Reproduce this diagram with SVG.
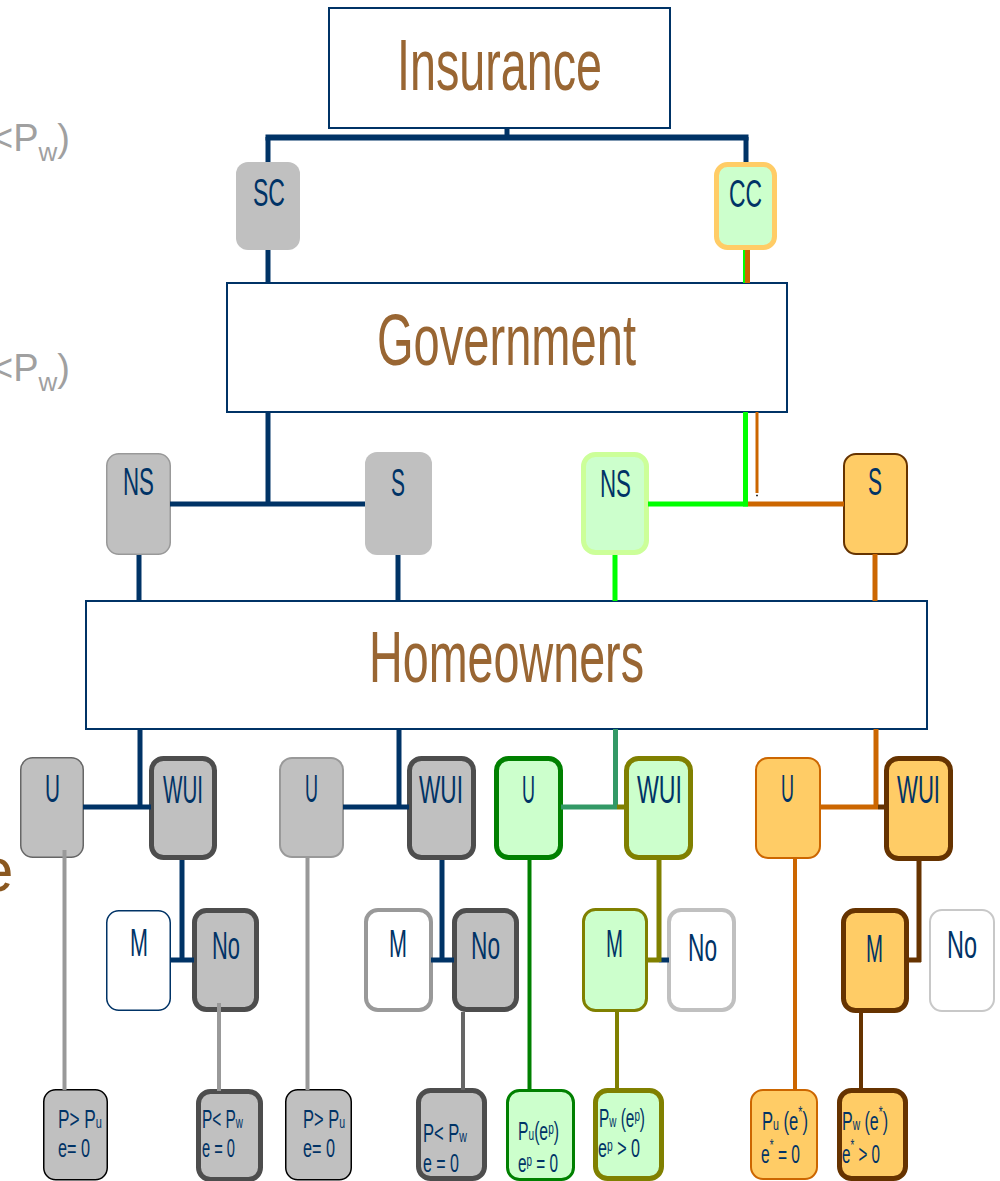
<svg xmlns="http://www.w3.org/2000/svg" width="1000" height="1181" viewBox="0 0 1000 1181">
<style>
text{font-family:"Liberation Sans Narrow","Liberation Sans",Arial,sans-serif;}
.title{font-size:72px;fill:#996633;}
.lbl{font-size:38px;fill:#003366;}
.leaf{font-size:25px;fill:#003366;}
.sub{font-size:16px;}
.main{fill:#ffffff;stroke:#003366;stroke-width:2;}
.side{font-family:"Liberation Sans",Arial,sans-serif;font-size:38px;fill:#a0a0a0;}
.c{fill:none;stroke-linecap:butt;}
</style>

<text class="side" x="-9" y="151">&lt;P<tspan font-size="26" dy="10">w</tspan><tspan dy="-10">)</tspan></text>
<text class="side" x="-9" y="381">&lt;P<tspan font-size="26" dy="10">w</tspan><tspan dy="-10">)</tspan></text>
<text x="-21" y="891" style="font-family:'Liberation Sans',Arial,sans-serif;font-size:62px;fill:#8a5820;">e</text>

<g id="insurance"><rect class="main" x="329" y="8" width="341" height="120"/><text class="title" x="397" y="90" textLength="205" lengthAdjust="spacingAndGlyphs">Insurance</text></g>
<g id="government"><rect class="main" x="227" y="283" width="560" height="129"/><text class="title" x="377" y="365" textLength="259" lengthAdjust="spacingAndGlyphs">Government</text></g>
<g id="homeowners"><rect class="main" x="86" y="601" width="841" height="128"/><text class="title" x="369" y="682" textLength="275" lengthAdjust="spacingAndGlyphs">Homeowners</text></g>

<g id="sc"><rect x="236" y="162" width="64" height="88" rx="12" fill="#c0c0c0"/><text class="lbl" x="253" y="206" textLength="32" lengthAdjust="spacingAndGlyphs">SC</text></g>
<g id="cc"><rect x="716.5" y="164.5" width="58" height="83" rx="11" fill="#ccffcc" stroke="#ffcc66" stroke-width="5"/><text class="lbl" x="729" y="207" textLength="33" lengthAdjust="spacingAndGlyphs">CC</text></g>

<g id="ns-gray"><rect x="106.75" y="453.75" width="63.5" height="100.5" rx="12" fill="#c0c0c0" stroke="#999999" stroke-width="1.5"/><text class="lbl" x="123" y="495" textLength="31" lengthAdjust="spacingAndGlyphs">NS</text></g>
<g id="s-gray"><rect x="365" y="452" width="67" height="103" rx="12" fill="#c0c0c0"/><text class="lbl" x="391" y="496" textLength="14" lengthAdjust="spacingAndGlyphs">S</text></g>
<g id="ns-green"><rect x="583.5" y="454.5" width="63" height="98" rx="12" fill="#ccffcc" stroke="#ccff99" stroke-width="5"/><text class="lbl" x="600" y="497" textLength="31" lengthAdjust="spacingAndGlyphs">NS</text></g>
<g id="s-orange"><rect x="844" y="454" width="63" height="100" rx="12" fill="#ffcc66" stroke="#663300" stroke-width="2"/><text class="lbl" x="868" y="495" textLength="14" lengthAdjust="spacingAndGlyphs">S</text></g>

<g id="u1"><rect x="20.75" y="757.75" width="62.5" height="99.5" rx="12" fill="#c0c0c0" stroke="#666666" stroke-width="1.5"/><text class="lbl" x="45" y="802" textLength="15" lengthAdjust="spacingAndGlyphs">U</text></g>
<g id="wui1"><rect x="151.5" y="758.5" width="63" height="99" rx="12" fill="#c0c0c0" stroke="#4d4d4d" stroke-width="5"/><text class="lbl" x="163" y="803" textLength="40" lengthAdjust="spacingAndGlyphs">WUI</text></g>
<g id="u2"><rect x="280" y="758" width="63" height="99" rx="12" fill="#c0c0c0" stroke="#999999" stroke-width="2"/><text class="lbl" x="305" y="802" textLength="13" lengthAdjust="spacingAndGlyphs">U</text></g>
<g id="wui2"><rect x="409.5" y="758.5" width="64" height="99" rx="12" fill="#c0c0c0" stroke="#4d4d4d" stroke-width="5"/><text class="lbl" x="419" y="803" textLength="44" lengthAdjust="spacingAndGlyphs">WUI</text></g>
<g id="u3"><rect x="496.5" y="758.5" width="64" height="99" rx="12" fill="#ccffcc" stroke="#008000" stroke-width="5"/><text class="lbl" x="522" y="803" textLength="13" lengthAdjust="spacingAndGlyphs">U</text></g>
<g id="wui3"><rect x="626.5" y="758.5" width="64" height="99" rx="12" fill="#ccffcc" stroke="#808000" stroke-width="5"/><text class="lbl" x="637" y="803" textLength="45" lengthAdjust="spacingAndGlyphs">WUI</text></g>
<g id="u4"><rect x="756" y="758" width="64" height="100" rx="12" fill="#ffcc66" stroke="#cc6600" stroke-width="2"/><text class="lbl" x="781" y="802" textLength="13" lengthAdjust="spacingAndGlyphs">U</text></g>
<g id="wui4"><rect x="886.5" y="758.5" width="64" height="100" rx="12" fill="#ffcc66" stroke="#663300" stroke-width="5"/><text class="lbl" x="897" y="803" textLength="43" lengthAdjust="spacingAndGlyphs">WUI</text></g>

<g id="m1"><rect x="106.75" y="910.75" width="63.5" height="99.5" rx="12" fill="#ffffff" stroke="#003366" stroke-width="1.5"/><text class="lbl" x="130" y="956" textLength="18" lengthAdjust="spacingAndGlyphs">M</text></g>
<g id="no1"><rect x="194.5" y="910.5" width="62" height="99" rx="12" fill="#c0c0c0" stroke="#4d4d4d" stroke-width="5"/><text class="lbl" x="212" y="959" textLength="28" lengthAdjust="spacingAndGlyphs">No</text></g>
<g id="m2"><rect x="366" y="910" width="65" height="100" rx="12" fill="#ffffff" stroke="#999999" stroke-width="4"/><text class="lbl" x="389" y="957" textLength="18" lengthAdjust="spacingAndGlyphs">M</text></g>
<g id="no2"><rect x="454.5" y="910.5" width="62" height="99" rx="12" fill="#c0c0c0" stroke="#4d4d4d" stroke-width="5"/><text class="lbl" x="471" y="959" textLength="29" lengthAdjust="spacingAndGlyphs">No</text></g>
<g id="m3"><rect x="583.5" y="909.5" width="63" height="101" rx="12" fill="#ccffcc" stroke="#808000" stroke-width="3"/><text class="lbl" x="606" y="957" textLength="17" lengthAdjust="spacingAndGlyphs">M</text></g>
<g id="no3"><rect x="669" y="910" width="65" height="100" rx="12" fill="#ffffff" stroke="#c0c0c0" stroke-width="4"/><text class="lbl" x="688" y="961" textLength="29" lengthAdjust="spacingAndGlyphs">No</text></g>
<g id="m4"><rect x="843.5" y="910.5" width="63" height="100" rx="12" fill="#ffcc66" stroke="#663300" stroke-width="5"/><text class="lbl" x="866" y="962" textLength="17" lengthAdjust="spacingAndGlyphs">M</text></g>
<g id="no4"><rect x="930" y="910" width="64" height="101" rx="12" fill="#ffffff" stroke="#c8c8c8" stroke-width="2"/><text class="lbl" x="947" y="958" textLength="30" lengthAdjust="spacingAndGlyphs">No</text></g>

<g id="leaf1"><rect x="43.75" y="1089.75" width="63.5" height="90" rx="12" fill="#c0c0c0" stroke="#000000" stroke-width="1.5"/><text class="leaf" x="58" y="1128" textLength="44" lengthAdjust="spacingAndGlyphs">P&gt; P<tspan class="sub">u</tspan></text><text class="leaf" x="58" y="1157" textLength="32" lengthAdjust="spacingAndGlyphs">e= 0</text></g>
<g id="leaf2"><rect x="198.5" y="1091.5" width="62" height="88" rx="12" fill="#c0c0c0" stroke="#4d4d4d" stroke-width="5"/><text class="leaf" x="202" y="1128" textLength="41" lengthAdjust="spacingAndGlyphs">P&lt; P<tspan class="sub">w</tspan></text><text class="leaf" x="202" y="1157" textLength="33" lengthAdjust="spacingAndGlyphs">e = 0</text></g>
<g id="leaf3"><rect x="285.75" y="1089.75" width="65.5" height="90" rx="12" fill="#c0c0c0" stroke="#000000" stroke-width="1.5"/><text class="leaf" x="303" y="1128" textLength="42" lengthAdjust="spacingAndGlyphs">P&gt; P<tspan class="sub">u</tspan></text><text class="leaf" x="303" y="1157" textLength="32" lengthAdjust="spacingAndGlyphs">e= 0</text></g>
<g id="leaf4"><rect x="418.5" y="1090.5" width="66" height="88" rx="12" fill="#c0c0c0" stroke="#4d4d4d" stroke-width="5"/><text class="leaf" x="423" y="1142" textLength="44" lengthAdjust="spacingAndGlyphs">P&lt; P<tspan class="sub">w</tspan></text><text class="leaf" x="423" y="1172" textLength="36" lengthAdjust="spacingAndGlyphs">e = 0</text></g>
<g id="leaf5"><rect x="507.5" y="1090.5" width="66" height="89" rx="12" fill="#ccffcc" stroke="#008000" stroke-width="3"/><text class="leaf" x="518" y="1140" textLength="41" lengthAdjust="spacingAndGlyphs">P<tspan class="sub">u</tspan>(e<tspan class="sub" dy="-6">p</tspan><tspan dy="6">)</tspan></text><text class="leaf" x="518" y="1172" textLength="40" lengthAdjust="spacingAndGlyphs">e<tspan class="sub" dy="-6">p</tspan><tspan dy="6"> = 0</tspan></text></g>
<g id="leaf6"><rect x="595.5" y="1090.5" width="66" height="88" rx="12" fill="#ccffcc" stroke="#808000" stroke-width="5"/><text class="leaf" x="599" y="1127" textLength="46" lengthAdjust="spacingAndGlyphs">P<tspan class="sub">w</tspan> (e<tspan class="sub" dy="-6">p</tspan><tspan dy="6">)</tspan></text><text class="leaf" x="598" y="1157" textLength="42" lengthAdjust="spacingAndGlyphs">e<tspan class="sub" dy="-6">p</tspan><tspan dy="6"> &gt; 0</tspan></text></g>
<g id="leaf7"><rect x="751" y="1090" width="66" height="89" rx="12" fill="#ffcc66" stroke="#cc6600" stroke-width="2"/><text class="leaf" x="762" y="1130" textLength="46" lengthAdjust="spacingAndGlyphs">P<tspan class="sub">u</tspan> (e<tspan class="sub" dy="-12">*</tspan><tspan dy="12">)</tspan></text><text class="leaf" x="761" y="1163" textLength="39" lengthAdjust="spacingAndGlyphs">e<tspan class="sub" dy="-12">*</tspan><tspan dy="12"> = 0</tspan></text></g>
<g id="leaf8"><rect x="839.5" y="1090.5" width="66" height="88" rx="12" fill="#ffcc66" stroke="#663300" stroke-width="5"/><text class="leaf" x="842" y="1130" textLength="46" lengthAdjust="spacingAndGlyphs">P<tspan class="sub">w</tspan> (e<tspan class="sub" dy="-12">*</tspan><tspan dy="12">)</tspan></text><text class="leaf" x="842" y="1163" textLength="38" lengthAdjust="spacingAndGlyphs">e<tspan class="sub" dy="-12">*</tspan><tspan dy="12"> &gt; 0</tspan></text></g>

<g id="connectors" class="c">
<g stroke="#003366" stroke-width="5">
<line x1="507" y1="128" x2="507" y2="137"/>
<line x1="265.5" y1="137.5" x2="748.5" y2="137.5" stroke-width="6"/>
<line x1="268" y1="137" x2="268" y2="162"/>
<line x1="746" y1="137" x2="746" y2="162"/>
<line x1="268" y1="250" x2="268" y2="283"/>
<line x1="268" y1="412" x2="268" y2="506"/>
<line x1="170" y1="504" x2="365" y2="504"/>
<line x1="139" y1="555" x2="139" y2="601"/>
<line x1="398" y1="555" x2="398" y2="601"/>
<line x1="140" y1="729" x2="140" y2="809"/>
<line x1="83" y1="807" x2="151" y2="807"/>
<line x1="399" y1="729" x2="399" y2="809"/>
<line x1="343" y1="807" x2="409" y2="807"/>
<line x1="182" y1="860" x2="182" y2="962"/>
<line x1="170" y1="960" x2="194" y2="960"/>
<line x1="442" y1="860" x2="442" y2="962"/>
<line x1="431" y1="960" x2="454" y2="960"/>
<line x1="659" y1="960" x2="669" y2="960"/>
</g>
<line x1="744" y1="250" x2="744" y2="283" stroke="#00ff00" stroke-width="2"/>
<line x1="747.5" y1="250" x2="747.5" y2="283" stroke="#cc6600" stroke-width="5"/>
<g stroke="#00ff00" stroke-width="5">
<line x1="745.5" y1="412" x2="745.5" y2="506.5"/>
<line x1="648" y1="504" x2="748" y2="504"/>
<line x1="615" y1="555" x2="615" y2="601"/>
</g>
<g stroke="#cc6600" stroke-width="5">
<line x1="757" y1="412" x2="757" y2="493" stroke-width="3"/>
<line x1="748" y1="504" x2="844" y2="504"/>
<line x1="875" y1="554" x2="875" y2="601"/>
<line x1="876" y1="729" x2="876" y2="809"/>
<line x1="820" y1="807" x2="878" y2="807"/>
</g>
<line x1="756" y1="495.5" x2="758" y2="495.5" stroke="#333333" stroke-width="1.5"/>
<g stroke="#339966" stroke-width="5">
<line x1="615.5" y1="729" x2="615.5" y2="809"/>
<line x1="561" y1="807" x2="617" y2="807"/>
</g>
<g stroke="#808000" stroke-width="5">
<line x1="617" y1="807" x2="627" y2="807"/>
<line x1="659" y1="860" x2="659" y2="962"/>
<line x1="647" y1="960" x2="659" y2="960"/>
</g>
<g stroke="#663300" stroke-width="5">
<line x1="878" y1="807" x2="887" y2="807"/>
<line x1="919" y1="861" x2="919" y2="962"/>
<line x1="907" y1="960" x2="921" y2="960"/>
</g>
<g stroke-width="4">
<line x1="64.5" y1="850" x2="64.5" y2="1090" stroke="#999999"/>
<line x1="219" y1="1003" x2="219" y2="1091" stroke="#999999"/>
<line x1="307.5" y1="858" x2="307.5" y2="1090" stroke="#999999"/>
<line x1="463" y1="1012" x2="463" y2="1090" stroke="#666666"/>
<line x1="529.5" y1="860" x2="529.5" y2="1090" stroke="#008000"/>
<line x1="617" y1="1012" x2="617" y2="1090" stroke="#808000"/>
<line x1="795" y1="859" x2="795" y2="1090" stroke="#cc6600"/>
<line x1="861" y1="1013" x2="861" y2="1090" stroke="#663300"/>
</g>
</g>
</svg>
